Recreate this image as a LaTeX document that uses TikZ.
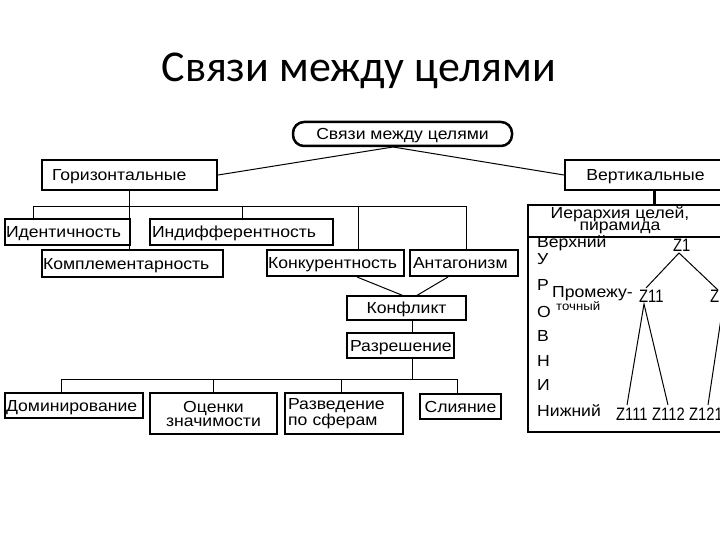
\documentclass[tikz,border=0pt]{standalone}
\usepackage{fontspec}
\setmainfont{Liberation Sans}[FakeStretch=1.1]
\newfontfamily\zfont{Liberation Sans}[FakeStretch=0.82]
\newfontfamily\titlefont{Carlito}
\newcommand\mybox[8]{%
  \pgfmathsetmacro\tw{#4-#2-2*#6}%
  \node[bx, minimum width={#4-#2}, minimum height={#5-#3}, inner xsep=#6pt, text width=\tw pt, align=#7] (#1) at ({(#2+#4)/2},{(#3+#5)/2}) {#8};}
\begin{document}
\begin{tikzpicture}[x=1pt,y=-1pt,
  bx/.style={draw, line width=2.2pt, inner ysep=0pt, font=\fontsize{16}{14}\selectfont},
  one/.style={text height=11.5pt, text depth=0pt},
  ln/.style={line width=1pt},
  lbl/.style={inner sep=0pt, font=\fontsize{16}{14}\selectfont, anchor=west},
  zl/.style={inner sep=0pt, font=\zfont\fontsize{18}{14}\selectfont, anchor=west}]
\useasboundingbox (0,0) rectangle (720,540);
\clip (0,0) rectangle (720,540);

\node[anchor=base] (title) at (359,82) {\titlefont\fontsize{44}{44}\selectfont Связи между целями};

\node[draw, line width=2.5pt, rounded corners=11pt, minimum width=219pt, minimum height=24pt, inner sep=0pt,
  text height=11.5pt, text depth=0pt, font=\fontsize{16}{14}\selectfont] (top) at (402.5,134) {Связи между целями};

\tikzset{bx/.append style={one}}
\mybox{gor}{42}{160}{217}{190}{10}{left}{Горизонтальные}
\mybox{vert}{565}{160}{726}{190}{2}{center}{Вертикальные}
\mybox{ident}{5}{219}{130}{245}{1}{left}{Идентичность}
\mybox{indif}{150}{219}{333}{245}{2}{left}{Индифферентность}
\mybox{kompl}{42}{250}{223}{277}{1}{left}{Комплементарность}
\mybox{konk}{267}{250}{404}{276}{1}{left}{Конкурентность}
\mybox{antag}{410}{250}{518}{276}{3}{left}{Антагонизм}
\mybox{konf}{347}{296}{466}{320}{2}{center}{Конфликт}
\mybox{razr}{347}{333}{454}{358}{3}{left}{Разрешение}
\mybox{dom}{5}{393}{143}{418}{1}{left}{Доминирование}
\mybox{sli}{420}{394}{501}{419}{2}{center}{Слияние}
\tikzset{bx/.append style={text height=, text depth=}}
\mybox{ocen}{150}{393}{277}{434}{2}{center}{Оценки\\значимости}
\mybox{razv}{285}{393}{403}{434}{3}{left}{Разведение\\по сферам}

% top connections
\coordinate (tc) at (393,147);
\draw[ln] (gor.east) -- (tc) -- (vert.west);

% horizontal branch
\coordinate (h1) at (33,207);
\coordinate (h2) at (242,207);
\coordinate (h3) at (358,207);
\coordinate (h4) at (466,207);
\draw[ln] (gor.south) -- (gor.south |- kompl.north);
\draw[ln] (h1 |- ident.north) -- (h1) -- (h4) -- (h4 |- antag.north);
\draw[ln] (h2) -- (h2 |- indif.north);
\draw[ln] (h3) -- (h3 |- konk.north);

% conflict
\coordinate (k1) at (357,277);
\coordinate (k2) at (448,277);
\coordinate (k3) at (404,296);
\coordinate (k4) at (416,296);
\draw[ln] (k1) -- (k3);
\draw[ln] (k2) -- (k4);
\coordinate (kx) at (412,0);
\draw[ln] (kx |- konf.south) -- (kx |- razr.north);

% resolution branch
\coordinate (b1) at (61,379);
\coordinate (b2) at (213,379);
\coordinate (b3) at (341,379);
\coordinate (b4) at (457,379);
\draw[ln] (kx |- razr.south) -- (kx |- b1);
\draw[ln] (b1 |- dom.north) -- (b1) -- (b4) -- (b4 |- sli.north);
\draw[ln] (b2) -- (b2 |- ocen.north);
\draw[ln] (b3) -- (b3 |- razv.north);

% vertical panel
\node[draw, line width=2.2pt, minimum width=199pt, minimum height=227pt, inner sep=0pt, anchor=north west] (panel) at (527,204) {};
\coordinate (sepL) at (527,237);
\coordinate (sepR) at (726,237);
\draw[line width=2pt] (sepL) -- (sepR);
\coordinate (vs) at (654,0);
\draw[line width=3pt] (vs |- vert.south) -- (vs |- panel.north);

\node[inner sep=0pt, align=center, font=\fontsize{16}{12.5}\selectfont] (ier) at (620,220) {Иерархия целей,\\пирамида};

\node[lbl] (l1) at (537,243) {Верхний};
\node[lbl] (l2) at (537,259) {У};
\node[lbl] (l3) at (537,285) {Р};
\node[lbl] (l4) at (537,312) {О};
\node[lbl] (l5) at (537,336) {В};
\node[lbl] (l6) at (537,361) {Н};
\node[lbl] (l7) at (537,385) {И};
\node[lbl] (l8) at (537,411) {Нижний};
\node[lbl] (pr) at (552,294) {Промежу-};
\node[lbl, font=\fontsize{12}{12}\selectfont] (to) at (556,306) {точный};

\node[zl] (z1) at (673,245) {Z1};
\node[zl] (z11) at (639,296) {Z11};
\node[zl] (z12) at (710,296) {Z12};
\node[zl] (z111) at (616,414) {Z111};
\node[zl] (z112) at (652,414) {Z112};
\node[zl] (z121) at (689,414) {Z121};

\coordinate (t1) at (679,253);
\coordinate (t2) at (646,288);
\coordinate (t3) at (718,290);
\coordinate (t4) at (644,304);
\coordinate (t5) at (627,405);
\coordinate (t6) at (668,405);
\coordinate (t7) at (722,312);
\coordinate (t8) at (708,405);
\draw[ln] (t2) -- (t1) -- (t3);
\draw[ln] (t5) -- (t4) -- (t6);
\draw[ln] (t7) -- (t8);
\end{tikzpicture}
\end{document}
